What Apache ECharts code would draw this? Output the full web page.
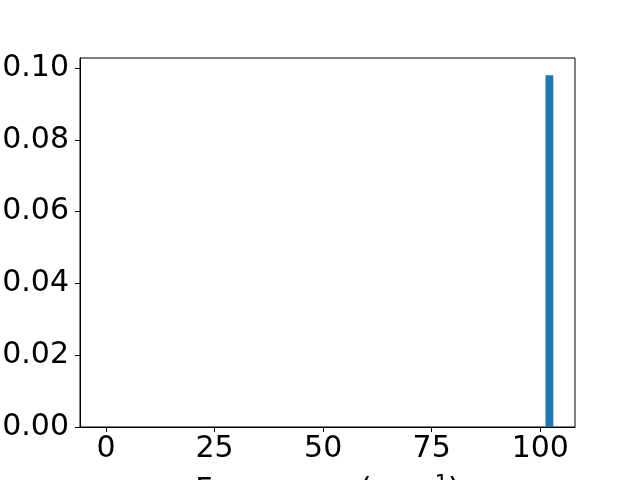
<!DOCTYPE html>
<html>
<head>
<meta charset="utf-8">
<script src="https://cdn.jsdelivr.net/npm/echarts@6/dist/echarts.min.js"></script>
<style>html,body{margin:0;padding:0;background:#fff}#c{width:640px;height:480px}</style>
</head>
<body>
<div id="c"></div>
<script>
// Histogram bins: [start, end, density]
const binStarts = [101.2];
const binEnds = [103.0];
const binHeights = [0.098];
const xTicks = [0, 25, 50, 75, 100];
const yTicks = [0, 0.02, 0.04, 0.06, 0.08, 0.10];
const xLabel = 'Frequency (cm';

const data = binStarts.map((s, i) => [s, binEnds[i], binHeights[i]]);
const font = 'DejaVu Sans';
const chart = echarts.init(document.getElementById('c'), null, {renderer: 'canvas'});
chart.setOption({
  animation: false,
  backgroundColor: '#fff',
  grid: {left: 80, right: 65, top: 58, bottom: 53, show: true, borderColor: '#000', borderWidth: 1, backgroundColor: 'transparent', outerBoundsMode: 'none', containLabel: false},
  xAxis: {
    type: 'value', min: -6, max: 108,
    axisLine: {show: true, onZero: false, lineStyle: {color: '#000', width: 1}},
    axisTick: {show: true, length: 5, lineStyle: {color: '#000'}, customValues: xTicks},
    axisLabel: {customValues: xTicks, color: '#000', fontSize: 30, fontFamily: font, margin: 7},
    splitLine: {show: false},
    name: '{a|' + xLabel + '}{b|−1}{a|)}',
    nameLocation: 'middle', nameGap: 47,
    nameTextStyle: {rich: {a: {fontSize: 30, fontFamily: font, color: '#000'}, b: {fontSize: 21, fontFamily: font, color: '#000', verticalAlign: 'top', padding: [0,0,14,0]}}}
  },
  yAxis: {
    type: 'value', min: 0, max: 0.1028,
    axisLine: {show: true, onZero: false, lineStyle: {color: '#000', width: 1}},
    axisTick: {show: true, length: 5, lineStyle: {color: '#000'}, customValues: yTicks},
    axisLabel: {customValues: yTicks, color: '#000', fontSize: 30, fontFamily: font, margin: 11, formatter: v => v.toFixed(2)},
    splitLine: {show: false}
  },
  series: [{
    type: 'custom',
    data: data,
    encode: {x: [0, 1], y: 2},
    renderItem: function (params, api) {
      const p0 = api.coord([api.value(0), 0]);
      const p1 = api.coord([api.value(1), api.value(2)]);
      return {type: 'rect', shape: {x: p0[0], y: p1[1], width: p1[0] - p0[0], height: p0[1] - p1[1]}, style: {fill: '#1f77b4'}};
    }
  }]
});
</script>
</body>
</html>
